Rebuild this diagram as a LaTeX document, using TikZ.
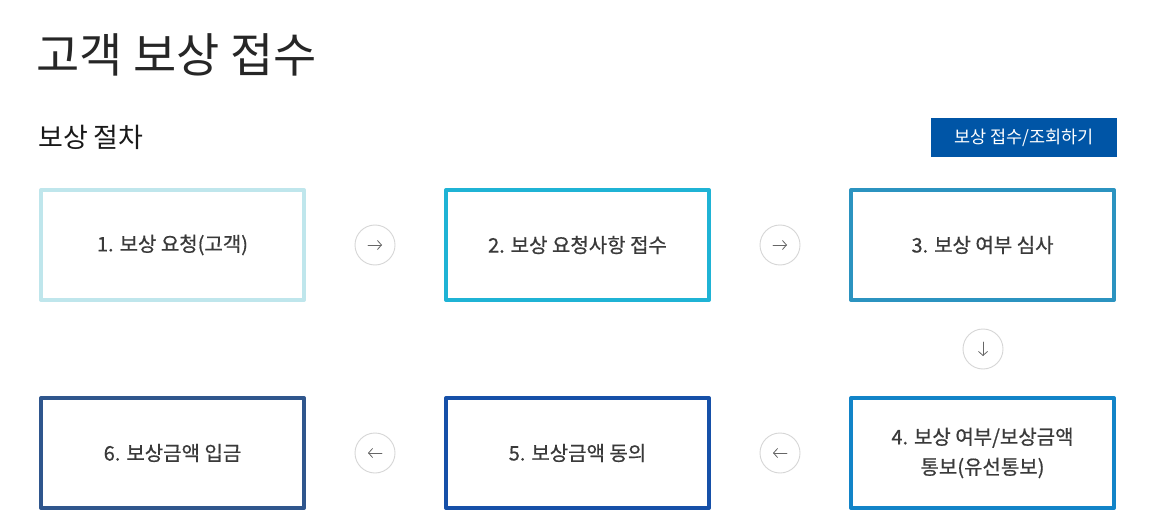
\documentclass[tikz,border=0pt]{standalone}
\usepackage{fontspec}
\setmainfont{Noto Sans CJK KR}
\usetikzlibrary{arrows.meta}
\definecolor{boxa}{HTML}{BFE6EC}
\definecolor{boxb}{HTML}{1FB3D5}
\definecolor{boxc}{HTML}{2B93C0}
\definecolor{boxd}{HTML}{1284C8}
\definecolor{boxe}{HTML}{1650A8}
\definecolor{boxf}{HTML}{2F568D}
\definecolor{btnblue}{HTML}{0055A6}
\definecolor{txtgray}{HTML}{3A3A3A}
\definecolor{ringgray}{HTML}{D6D6D6}
\definecolor{arrgray}{HTML}{666666}
\begin{document}
\begin{tikzpicture}[x=1pt,y=-1pt,line cap=round,line join=round,
  stepbox/.style={draw=#1,line width=4pt,minimum width=263pt,minimum height=110pt,inner sep=0pt,
    font=\fontsize{20}{30}\selectfont\addfontfeature{FakeBold=0.6},text=txtgray,align=center},
  nextdot/.style={circle,draw=ringgray,line width=0.9pt,minimum size=40pt,inner sep=0pt},
  tip/.style={draw=arrgray,line width=0.8pt,-{Straight Barb[length=4pt,width=9pt]}}]
  \useasboundingbox[fill=white](0,0)rectangle(1150,529);
  % titles
  \node[anchor=base west,inner sep=0pt,text=black!85,font=\fontsize{47}{52}\selectfont](title)at(36,73){고객 보상 접수};
  \node[anchor=base west,inner sep=0pt,text=black!90,font=\fontsize{27}{30}\selectfont](sub)at(38,148){보상 절차};
  \node[fill=btnblue,text=white,minimum width=186pt,minimum height=39pt,inner sep=0pt,
    font=\fontsize{17.5}{20}\selectfont](btn)at(1024,137.5){보상 접수/조회하기};
  % steps
  \node[stepbox=boxa](s1)at(172.5,245){1. 보상 요청(고객)};
  \node[stepbox=boxb](s2)at(577.5,245){2. 보상 요청사항 접수};
  \node[stepbox=boxc](s3)at(982.5,245){3. 보상 여부 심사};
  \node[stepbox=boxd](s4)at(982.5,453){4. 보상 여부/보상금액\\통보(유선통보)};
  \node[stepbox=boxe](s5)at(577.5,453){5. 보상금액 동의};
  \node[stepbox=boxf](s6)at(172.5,453){6. 보상금액 입금};
  % arrows between steps
  \foreach \n/\p/\d in{a12/{375,245}/0,a23/{780,245}/0,a34/{983,349}/-90,a45/{780,453}/180,a56/{375,453}/180}{
    \node[nextdot](\n)at(\p){};
    \draw[tip]([shift={(\d+180:7pt)}]\n.center)--([shift={(\d:7pt)}]\n.center);
  }
\end{tikzpicture}
\end{document}
